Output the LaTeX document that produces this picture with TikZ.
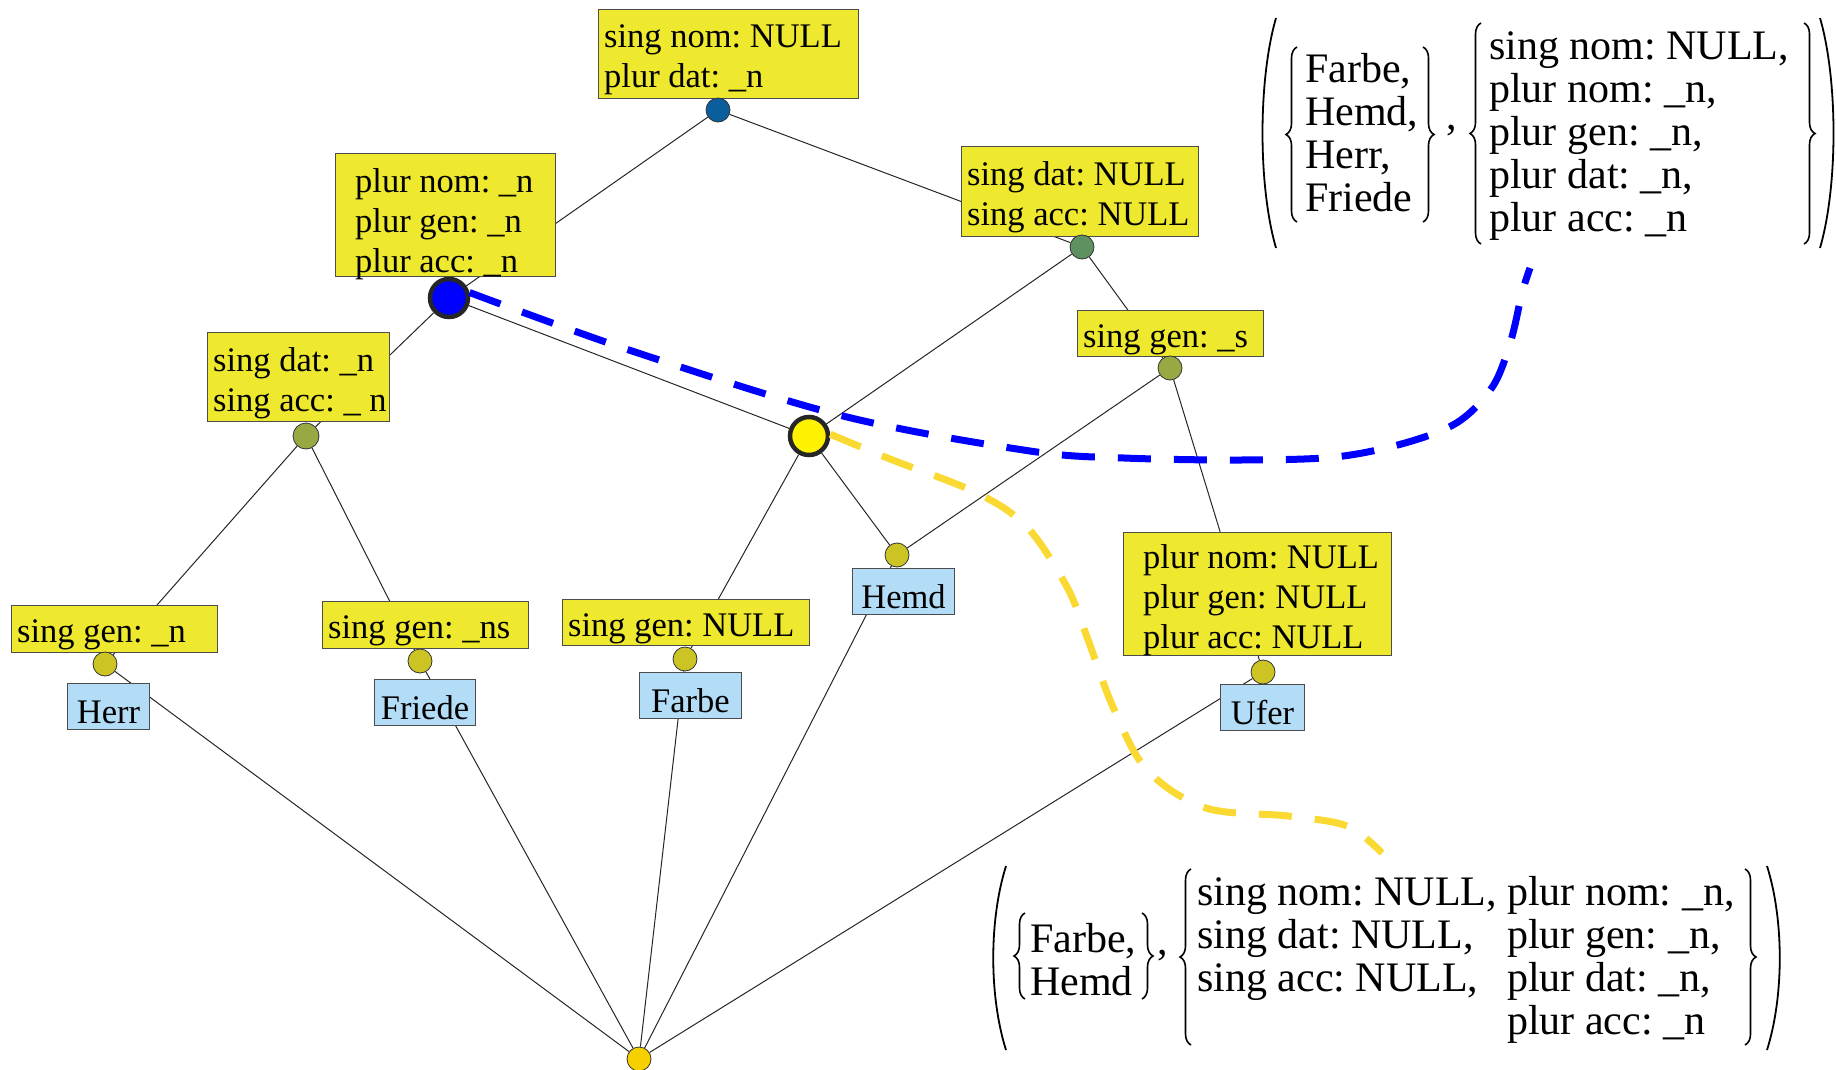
\documentclass[tikz,border=0pt]{standalone}
\usepackage{fontspec}
\setmainfont{Liberation Serif}
\usetikzlibrary{backgrounds,decorations.pathreplacing}
\definecolor{boxy}{RGB}{238,232,46}
\definecolor{lblue}{RGB}{179,221,247}
\definecolor{cdblue}{RGB}{11,94,156}
\definecolor{cgreen}{RGB}{94,144,96}
\definecolor{colive}{RGB}{152,168,67}
\definecolor{cyol}{RGB}{203,196,36}
\definecolor{cgold}{RGB}{247,208,0}
\definecolor{dashyel}{RGB}{250,218,50}
\begin{document}
\begin{tikzpicture}[x=1pt,y=-1pt,
  ybox/.style={draw=black!70, line width=1pt, fill=boxy, rectangle, anchor=north west, inner sep=0pt},
  wbox/.style={draw=black!70, line width=1pt, fill=lblue, rectangle, anchor=north west,
    inner sep=0pt, text height=33pt, text depth=0pt, align=center, font=\fontsize{34.5}{40}\selectfont\frenchspacing},
  btext/.style={anchor=west, inner sep=0pt, yshift=-6pt, align=left, font=\fontsize{34.5}{40}\selectfont\frenchspacing},
  mtext/.style={anchor=west, inner sep=0pt, align=left, font=\fontsize{42}{43}\selectfont\frenchspacing},
  dot/.style={circle, inner sep=0pt, minimum size=24pt, draw=black!80, line width=0.8pt},
  bigdot/.style={circle, inner sep=0pt, minimum size=38pt, draw=black!85, line width=4.5pt},
  edge/.style={draw=black!85, line width=1pt},
  lbrace/.style={decorate, decoration={brace, amplitude=11pt}, line width=1.6pt},
  paren/.style={line width=1.8pt},
  dashcurve/.style={line width=7pt, dash pattern=on 33pt off 23pt}]
\useasboundingbox (0,0) rectangle (1836,1070);

% yellow attribute boxes
\node[ybox, minimum width=260pt, minimum height=89pt] (t1) at (598,9) {};
\node[btext, xshift=6pt] (t1x) at (t1.west) {sing nom: NULL\\plur dat: \_n};
\node[ybox, minimum width=220pt, minimum height=123pt] (t2) at (335,153) {};
\node[btext, xshift=20pt, yshift=-3pt] (t2x) at (t2.west) {plur nom: \_n\\plur gen: \_n\\plur acc: \_n};
\node[ybox, minimum width=237pt, minimum height=90pt] (t3) at (961,146) {};
\node[btext, xshift=6pt] (t3x) at (t3.west) {sing dat: NULL\\sing acc: NULL};
\node[ybox, minimum width=182pt, minimum height=89pt] (t4) at (207,332) {};
\node[btext, xshift=6pt] (t4x) at (t4.west) {sing dat: \_n\\sing acc: \_ n};
\node[ybox, minimum width=186pt, minimum height=46pt] (t5) at (1077,310) {};
\node[btext, xshift=6pt] (t5x) at (t5.west) {sing gen: \_s};
\node[ybox, minimum width=206pt, minimum height=47pt] (g1b) at (11,605) {};
\node[btext, xshift=6pt] (g1x) at (g1b.west) {sing gen: \_n};
\node[ybox, minimum width=206pt, minimum height=47pt] (g2b) at (322,601) {};
\node[btext, xshift=6pt] (g2x) at (g2b.west) {sing gen: \_ns};
\node[ybox, minimum width=247pt, minimum height=46pt] (g3b) at (562,599) {};
\node[btext, xshift=6pt] (g3x) at (g3b.west) {sing gen: NULL};
\node[ybox, minimum width=268pt, minimum height=123pt] (pb) at (1123,532) {};
\node[btext, xshift=20pt] (pbx) at (pb.west) {plur nom: NULL\\plur gen: NULL\\plur acc: NULL};

% object boxes
\node[wbox, minimum width=82pt, minimum height=46pt] (herr) at (67,683) {Herr};
\node[wbox, minimum width=101pt, minimum height=46pt] (friede) at (374,679) {Friede};
\node[wbox, minimum width=102pt, minimum height=46pt] (farbe) at (639,672) {Farbe};
\node[wbox, minimum width=102pt, minimum height=46pt] (hemd) at (852,568) {Hemd};
\node[wbox, minimum width=84pt, minimum height=46pt] (ufer) at (1220,684) {Ufer};

% concept circles
\node[dot, fill=cdblue] (c1) at (718,110) {};
\node[bigdot, fill=blue] (cB) at (449,298) {};
\node[dot, fill=cgreen] (c3) at (1082,247) {};
\node[dot, fill=colive, minimum size=26pt] (c4) at (306,436) {};
\node[dot, fill=colive] (c5) at (1170,368) {};
\node[bigdot, fill=yellow] (cY) at (809,436) {};
\node[dot, fill=cyol] (g1) at (105,664) {};
\node[dot, fill=cyol] (g2) at (420,661) {};
\node[dot, fill=cyol] (g3) at (685,659) {};
\node[dot, fill=cyol] (gH) at (897,555) {};
\node[dot, fill=cyol] (gU) at (1263,672) {};
\node[dot, fill=cgold] (b0) at (639,1059) {};

% lattice edges
\begin{scope}[on background layer]
\draw[edge] (c1) -- (cB);
\draw[edge] (c1) -- (c3);
\draw[edge] (cB) -- (c4);
\draw[edge] (cB) -- (cY);
\draw[edge] (c3) -- (cY);
\draw[edge] (c3) -- (c5);
\draw[edge] (c4) -- (g1);
\draw[edge] (c4) -- (g2);
\draw[edge] (cY) -- (g3);
\draw[edge] (cY) -- (gH);
\draw[edge] (c5) -- (gH);
\draw[edge] (c5) -- (gU);
\draw[edge] (g1) -- (b0);
\draw[edge] (g2) -- (b0);
\draw[edge] (g3) -- (b0);
\draw[edge] (gH) -- (b0);
\draw[edge] (gU) -- (b0);
\end{scope}

% formal concept (top right)
\draw[paren] (1276,18) .. controls (1258,80) and (1258,186) .. (1276,248);
\draw[lbrace] (1297,222) -- (1297,47);
\node[mtext] (m1a) at (1305,133) {Farbe,\\Hemd,\\Herr,\\Friede};
\draw[lbrace] (1423,47) -- (1423,222);
\node[anchor=base, inner sep=0pt, font=\fontsize{42}{43}\selectfont] (m1c) at (1452,130) {,};
\draw[lbrace] (1481,244) -- (1481,23);
\node[mtext] (m1b) at (1489,136) {sing nom: NULL,\\plur nom: \_n,\\plur gen: \_n,\\plur dat: \_n,\\plur acc: \_n};
\draw[lbrace] (1804,23) -- (1804,244);
\draw[paren] (1820,18) .. controls (1838,80) and (1838,186) .. (1820,248);

% formal concept (bottom right)
\draw[paren] (1006,866) .. controls (989,920) and (989,996) .. (1006,1050);
\draw[lbrace] (1025,999) -- (1025,913);
\node[mtext] (m2a) at (1030,960) {Farbe,\\Hemd};
\draw[lbrace] (1142,913) -- (1142,999);
\node[anchor=base, inner sep=0pt, font=\fontsize{42}{43}\selectfont] (m2c) at (1163,954) {,};
\draw[lbrace] (1191,1045) -- (1191,869);
\node[mtext] (m2b) at (1197,961) {\begin{tabular}{@{}l@{\hspace{10pt}}l@{}}sing nom: NULL,&plur nom: \_n,\\sing dat: NULL,&plur gen: \_n,\\sing acc: NULL,&plur dat: \_n,\\&plur acc: \_n\end{tabular}};
\draw[lbrace] (1745,869) -- (1745,1045);
\draw[paren] (1767,866) .. controls (1784,920) and (1784,996) .. (1767,1050);

\coordinate (m1foot) at (1530,268);
\coordinate (m2head) at (1382,853);

\draw[dashcurve, blue] plot[smooth, tension=0.55] coordinates {(cB.15) (632,351) (843,416) (1030,451) (1124,458) (1241,460) (1335,457) (1405,443) (1458,422) (1493,386) (1511,340) (1522,293) (m1foot)};
\draw[dashcurve, dashyel] plot[smooth, tension=0.55] coordinates {(cY.5) (890,459) (977,493) (1027,527) (1067,587) (1087,637) (1113,707) (1147,770) (1206,808) (1288,816) (1347,826) (m2head)};
\end{tikzpicture}
\end{document}
